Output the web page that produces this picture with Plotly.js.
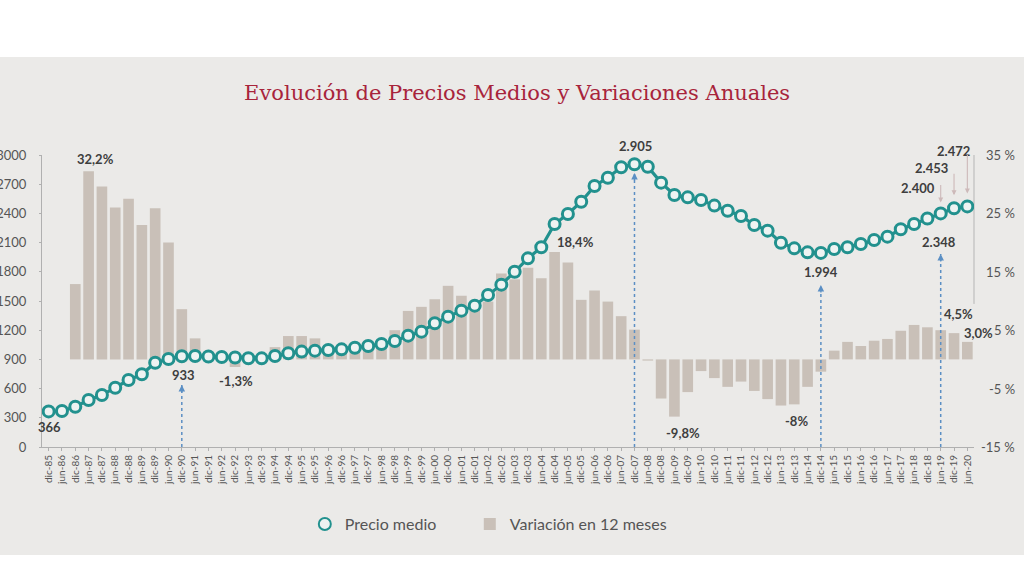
<!DOCTYPE html>
<html>
<head>
<meta charset="utf-8">
<script src="https://cdn.plot.ly/plotly-3.0.1.min.js"></script>
<style>html,body{margin:0;padding:0;background:#fff;}#chart{width:1024px;height:576px;}</style>
</head>
<body>
<div id="chart"></div>
<script>
// ---- DATA ----
const periods = ["dic-85","jun-86","dic-86","jun-87","dic-87","jun-88","dic-88","jun-89","dic-89","jun-90",
"dic-90","jun-91","dic-91","jun-92","dic-92","jun-93","dic-93","jun-94","dic-94","jun-95",
"dic-95","jun-96","dic-96","jun-97","dic-97","jun-98","dic-98","jun-99","dic-99","jun-00",
"dic-00","jun-01","dic-01","jun-02","dic-02","jun-03","dic-03","jun-04","dic-04","jun-05",
"dic-05","jun-06","dic-06","jun-07","dic-07","jun-08","dic-08","jun-09","dic-09","jun-10",
"dic-10","jun-11","dic-11","jun-12","dic-12","jun-13","dic-13","jun-14","dic-14","jun-15",
"dic-15","jun-16","dic-16","jun-17","dic-17","jun-18","dic-18","jun-19","dic-19","jun-20"];

const precioMedio = [366,370,414,483,534,609,688,747,866,904,
933,935,930,925,920,912,911,935,963,980,
990,997,1003,1020,1038,1058,1089,1144,1185,1271,
1339,1401,1452,1562,1668,1801,1938,2052,2291,2394,
2520,2682,2767,2874,2905,2880,2716,2589,2565,2538,
2480,2427,2373,2281,2223,2099,2041,2000,1994,2034,
2052,2086,2127,2161,2237,2291,2348,2400,2453,2472];

const variacion12m = [null,null,12.9,32.2,29.6,26.0,27.5,23.0,25.9,20.0,
8.6,3.6,0.4,-0.3,-1.3,-0.6,0.2,2.1,4.0,4.0,
3.6,1.2,1.3,1.6,2.0,3.0,5.0,8.3,9.0,10.3,
12.6,10.9,9.3,9.9,14.7,13.7,15.7,13.9,18.4,16.6,
10.2,11.8,9.9,7.4,5.1,-0.2,-6.7,-9.8,-5.6,-2.0,
-3.2,-4.7,-3.8,-5.4,-6.8,-7.9,-7.7,-4.7,-2.1,1.5,
3.0,2.3,3.2,3.5,4.9,5.9,5.5,5.0,4.5,3.0];

const priceTicks = [0,300,600,900,1200,1500,1800,2100,2400,2700,3000];
const pctTicks = [-15,-5,5,15,25,35];
const pctTickText = ["-15 %","-5 %","5 %","15 %","25 %","35 %"];

// ---- STYLE ----
const TEAL = "#22918e";
const BAR = "#c9c0b8";
const TXT = "#3e3e3e";
const AX = "#555555";
const BLUE = "#5b8fc4";
const PINK = "#cdb9b9";
const FONT = "Lato, 'Open Sans', sans-serif";

const traces = [
  {type:"scatter", mode:"lines", x:periods, y:precioMedio, yaxis:"y2",
   line:{color:TEAL, width:3.2}, showlegend:false, hoverinfo:"skip"},
  {type:"scatter", mode:"markers", name:"Precio medio", x:periods, y:precioMedio, yaxis:"y2",
   legend:"legend",
   marker:{symbol:"circle", size:11, color:"#eef3f2", line:{color:TEAL, width:3}}},
  {type:"bar", name:"Variación en 12 meses", x:periods, y:variacion12m, yaxis:"y",
   legend:"legend2", marker:{color:BAR}}
];

function idx(p){return periods.indexOf(p);}
function lab(text, p, yv, yref, xs, ys){
  return {text:text, x:p, y:yv, xref:"x", yref:yref, showarrow:false, xshift:xs, yshift:ys,
    font:{family:FONT, size:13, color:TXT, weight:"bold"}};
}
function arrowUp(p, yv){
  return {text:"", x:p, y:yv, xref:"x", yref:"y2", showarrow:true, ax:0, ay:9,
    arrowhead:2, arrowsize:1, arrowwidth:1.3, arrowcolor:BLUE};
}
function arrowDown(p, yv, ys, len){
  return {text:"", x:p, y:yv, xref:"x", yref:"y2", yshift:ys, showarrow:true, ax:0, ay:-len,
    arrowhead:2, arrowsize:0.9, arrowwidth:1.1, arrowcolor:PINK};
}

const annotations = [
  lab("32,2%", "jun-87", variacion12m[idx("jun-87")], "y", 7, 12),
  lab("366", "dic-85", precioMedio[idx("dic-85")], "y2", 1, -16),
  lab("933", "dic-90", precioMedio[idx("dic-90")], "y2", 2, -19),
  lab("-1,3%", "dic-92", variacion12m[idx("dic-92")], "y", 1, -14),
  lab("18,4%", "dic-04", variacion12m[idx("dic-04")], "y", 21, 10),
  lab("2.905", "dic-07", precioMedio[idx("dic-07")], "y2", 1, 18),
  lab("-9,8%", "jun-09", variacion12m[idx("jun-09")], "y", 9, -16),
  lab("-8%", "dic-13", variacion12m[idx("dic-13")], "y", 2, -17),
  lab("1.994", "dic-14", precioMedio[idx("dic-14")], "y2", 0, -19),
  lab("2.348", "jun-19", precioMedio[idx("jun-19")], "y2", -2, -29),
  lab("2.400", "jun-19", precioMedio[idx("jun-19")], "y2", -23, 25),
  lab("2.453", "dic-19", precioMedio[idx("dic-19")], "y2", -23, 40),
  lab("2.472", "jun-20", precioMedio[idx("jun-20")], "y2", -14, 55),
  lab("4,5%", "dic-19", variacion12m[idx("dic-19")], "y", 4, 19),
  lab("3,0%", "jun-20", variacion12m[idx("jun-20")], "y", 11, 9),
  arrowUp("dic-90", 637),
  arrowUp("dic-07", 2815),
  arrowUp("dic-14", 1664),
  arrowUp("jun-19", 1983),
  arrowDown("jun-19", precioMedio[idx("jun-19")], 11, 19),
  arrowDown("dic-19", precioMedio[idx("dic-19")], 13, 23),
  arrowDown("jun-20", precioMedio[idx("jun-20")], 13, 40)
];
// right-aligned percentage tick labels (as in the original)
pctTicks.forEach(function(v, i){
  annotations.push({text:pctTickText[i], x:1.0461, xref:"paper", xanchor:"right",
    y:v, yref:"y", showarrow:false, font:{family:FONT, size:13, color:AX}});
});

function dotted(p, y1){
  return {type:"line", xref:"x", yref:"y2", x0:p, x1:p, y0:0, y1:y1,
    line:{color:BLUE, width:1.5, dash:"dot"}, layer:"above"};
}

const shapes = [
  {type:"rect", xref:"paper", yref:"paper", x0:-0.046, x1:1.055, y0:-0.37, y1:1.336,
   fillcolor:"#ebeae8", line:{width:0}, layer:"below"},
  {type:"line", xref:"paper", yref:"y", x0:1, x1:1, y0:9.5, y1:35,
   line:{color:"#b5b5b5", width:1}, layer:"below"},
  dotted("dic-90", 637),
  dotted("dic-07", 2815),
  dotted("dic-14", 1664),
  dotted("jun-19", 1983)
];

const legendStyle = {orientation:"h", y:-0.264, yanchor:"middle", xanchor:"left",
  font:{family:FONT, size:16, color:"#555"}, bgcolor:"rgba(0,0,0,0)", itemsizing:"constant"};

const layout = {
  width:1024, height:576,
  margin:{l:42, r:50, t:155, b:129},
  paper_bgcolor:"#ffffff",
  plot_bgcolor:"rgba(0,0,0,0)",
  font:{family:FONT, color:AX},
  title:{text:"Evolución de Precios Medios y Variaciones Anuales",
    font:{family:"'DejaVu Serif', serif", size:21, color:"#a8243b"},
    x:0.505, xanchor:"center", y:0.84, yanchor:"middle", xref:"container", yref:"container"},
  bargap:0.2,
  xaxis:{type:"category", range:[-0.5,69.5], tickangle:-90, tickfont:{size:10, color:AX},
    showline:true, linecolor:"#b0b0b0", linewidth:1, ticks:"outside", ticklen:3, tickcolor:"#b0b0b0",
    showgrid:false, zeroline:false, fixedrange:true},
  yaxis:{range:[-15,35], side:"right", tickvals:pctTicks, showticklabels:false,
    showgrid:false, zeroline:false, showline:false, ticks:""},
  yaxis2:{range:[0,3000], overlaying:"y", side:"left", tickvals:priceTicks,
    tickfont:{size:13, color:AX}, showgrid:false, zeroline:false, showline:true,
    linecolor:"#b0b0b0", linewidth:1, ticks:"outside", ticklen:2, tickcolor:"#b0b0b0",
    ticklabelstandoff:10},
  legend:Object.assign({}, legendStyle, {x:0.282}),
  legend2:Object.assign({}, legendStyle, {x:0.459}),
  annotations:annotations,
  shapes:shapes,
  showlegend:true
};

Plotly.newPlot("chart", traces, layout, {displayModeBar:false, staticPlot:true});
</script>
</body>
</html>
